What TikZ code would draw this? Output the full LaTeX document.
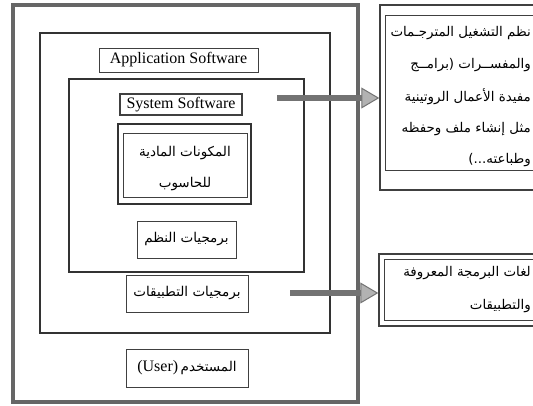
\documentclass[tikz,border=0pt]{standalone}
\usepackage{fontspec}
\setmainfont{Liberation Serif}
\newfontfamily\arabicfont[Script=Arabic]{DejaVu Sans}
\TeXXeTstate=1
\usetikzlibrary{arrows.meta}
\tikzset{
  boxthin/.style={draw=black!75, line width=1pt, inner sep=0pt, fill=none},
  boxmid/.style={draw=black!80, line width=1.8pt, inner sep=0pt},
  boxouter/.style={draw=black!60, line width=4pt, inner sep=0pt},
  entext/.style={font=\fontsize{16}{18}\selectfont},
  artext/.style={font=\arabicfont\fontsize{13.5}{31}\selectfont, align=center},
  rtext/.style={font=\arabicfont\fontsize{13.4}{16}\selectfont, anchor=east, inner sep=0pt},
  bigarrow/.style={draw=black!55, line width=5.5pt,
    -{Triangle[length=18pt,width=21pt,line width=1pt,fill=black!30]}},
}
\begin{document}
\begin{tikzpicture}[x=1pt,y=-1pt]
\useasboundingbox (0,0) rectangle (533,405);
\fill[white] (0,0) rectangle (533,405);
% left nested frames
\node[boxouter, minimum width=345pt, minimum height=397pt] (outer) at (185.5,203.5) {};
\node[boxmid, minimum width=290pt, minimum height=300pt] (app) at (185,183) {};
\node[boxthin, minimum width=159pt, minimum height=24pt, entext] (applab) at (178.5,60) {Application Software};
\node[boxmid, minimum width=235pt, minimum height=193pt] (sys) at (186.5,175.5) {};
\node[boxthin, line width=1.3pt, minimum width=122pt, minimum height=21pt, entext] (syslab) at (181,104.5) {System Software};
\node[draw=black!80, line width=2.6pt, inner sep=0pt, minimum width=133pt, minimum height=80pt] (hwo) at (184.5,164) {};
\node[boxthin, minimum width=124pt, minimum height=64pt] (hwi) at (185,165) {};
\node[artext] (hwtext) at (185,168.5) {\beginR المكونات المادية\endR\\\beginR للحاسوب\endR};
\node[boxthin, minimum width=99pt, minimum height=37pt, artext] (syssw) at (186.5,239.5) {\beginR برمجيات النظم\endR};
\node[boxthin, minimum width=122pt, minimum height=37pt, artext] (appsw) at (187,293.5) {\beginR برمجيات التطبيقات\endR};
\node[boxthin, minimum width=122pt, minimum height=38pt] (user) at (187,368) {{\fontsize{16}{18}\selectfont (User)} {\arabicfont\fontsize{13.5}{16}\selectfont\beginR المستخدم\endR}};
% right boxes (run past the right edge)
\node[draw=black!75, line width=1.5pt, inner sep=0pt, minimum width=180pt, minimum height=185pt] (r1o) at (470,97.5) {};
\node[boxthin, minimum width=170pt, minimum height=155pt] (r1i) at (470,92.5) {};
\node[draw=black!75, line width=1.5pt, inner sep=0pt, minimum width=181pt, minimum height=72pt] (r2o) at (469.5,290) {};
\node[boxthin, minimum width=171pt, minimum height=61pt] (r2i) at (469.5,289.5) {};
\node[rtext] (r1a) at (531,33) {\beginR نظم التشغيل المترجـمات\endR};
\node[rtext] (r1b) at (531,65) {\beginR والمفســرات (برامــج\endR};
\node[rtext] (r1c) at (531,97) {\beginR مفيدة الأعمال الروتينية\endR};
\node[rtext] (r1d) at (531,129) {\beginR مثل إنشاء ملف وحفظه\endR};
\node[rtext] (r1e) at (531,160) {\beginR وطباعته...)\endR};
\node[rtext] (r2a) at (531,273) {\beginR لغات البرمجة المعروفة\endR};
\node[rtext] (r2b) at (531,306) {\beginR والتطبيقات\endR};
% arrows
\coordinate (a1) at (277,98);
\coordinate (a2) at (290,293);
\draw[bigarrow] (a1) -- (r1o.west |- a1);
\draw[bigarrow] (a2) -- (r2o.west |- a2);
\end{tikzpicture}
\end{document}
